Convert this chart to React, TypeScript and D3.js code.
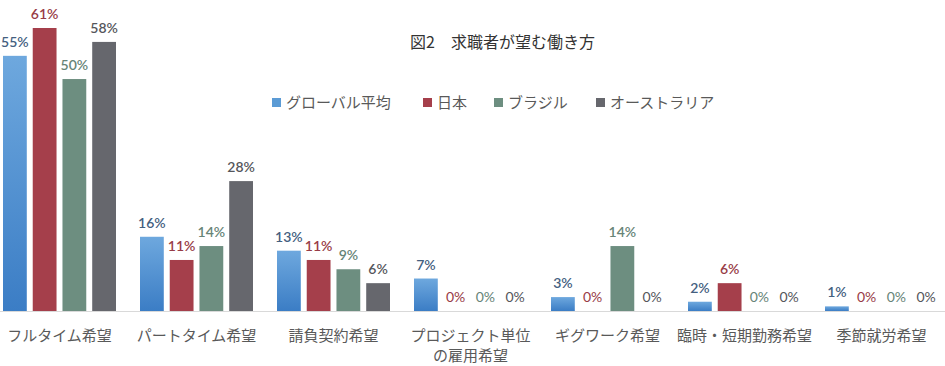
import { useEffect, useRef } from "react";
import * as d3 from "d3";

const categories = [
  ["フルタイム希望"],
  ["パートタイム希望"],
  ["請負契約希望"],
  ["プロジェクト単位", "の雇用希望"],
  ["ギグワーク希望"],
  ["臨時・短期勤務希望"],
  ["季節就労希望"],
];
const seriesNames = ["グローバル平均", "日本", "ブラジル", "オーストラリア"];
const globalAvg = [55, 16, 13, 7, 3, 2, 1];
const japan = [61, 11, 11, 0, 0, 6, 0];
const brazil = [50, 14, 9, 0, 14, 0, 0];
const australia = [58, 28, 6, 0, 0, 0, 0];

const barColors = ["url(#blueGrad)", "#a53f4b", "#6d8e80", "#66676d"];
const legendColors = ["#5b9bd5", "#a53f4b", "#6d8e80", "#66676d"];
const labelColors = ["#44607f", "#983c46", "#678477", "#55565b"];

const W = 945;
const H = 366;
const baseY = 311;
const jp = "'Noto Sans CJK JP', sans-serif";

export default function App() {
  const svgRef = useRef<SVGSVGElement>(null);

  useEffect(() => {
    const svg = d3.select(svgRef.current);
    svg.selectAll("*").remove();
    const allSeries = [globalAvg, japan, brazil, australia];

    const defs = svg.append("defs");
    const grad = defs
      .append("linearGradient")
      .attr("id", "blueGrad")
      .attr("x1", 0)
      .attr("y1", 0)
      .attr("x2", 0)
      .attr("y2", 1);
    grad.append("stop").attr("offset", "0%").attr("stop-color", "#6ea8de");
    grad.append("stop").attr("offset", "100%").attr("stop-color", "#3b7dc5");

    const x0 = d3
      .scaleBand<number>()
      .domain(d3.range(categories.length))
      .range([-9, 950])
      .paddingInner(0)
      .paddingOuter(0);
    const x1 = d3
      .scaleBand<number>()
      .domain(d3.range(seriesNames.length))
      .range([12, x0.bandwidth() - 12])
      .paddingInner(0.2);
    const y = d3.scaleLinear().domain([0, 61]).range([baseY, 28]);

    // baseline
    svg
      .append("line")
      .attr("x1", 0)
      .attr("x2", W)
      .attr("y1", baseY + 0.5)
      .attr("y2", baseY + 0.5)
      .attr("stroke", "#d9d9d9");

    const groups = svg
      .selectAll(".grp")
      .data(categories)
      .enter()
      .append("g")
      .attr("transform", (_, i) => `translate(${x0(i)},0)`);

    groups.each(function (_, ci) {
      const g = d3.select(this);
      allSeries.forEach((vals, si) => {
        const v = vals[ci];
        if (v > 0) {
          g.append("rect")
            .attr("x", x1(si)!)
            .attr("y", y(v))
            .attr("width", x1.bandwidth())
            .attr("height", baseY - y(v))
            .attr("fill", barColors[si]);
        }
        g.append("text")
          .attr("x", x1(si)! + x1.bandwidth() / 2)
          .attr("y", y(v) - 9)
          .attr("text-anchor", "middle")
          .attr("font-family", "Lato, sans-serif")
          .attr("font-size", 14)
          .attr("font-weight", v > 0 ? 600 : 400)
          .attr("fill", labelColors[si])
          .text(`${v}%`);
      });
      const lines = categories[ci];
      lines.forEach((ln, li) => {
        g.append("text")
          .attr("x", x0.bandwidth() / 2)
          .attr("y", 341 + li * 20)
          .attr("text-anchor", "middle")
          .attr("font-family", jp)
          .attr("font-size", 15)
          .attr("fill", "#595959")
          .text(ln);
      });
    });

    // title
    svg
      .append("text")
      .attr("x", 410)
      .attr("y", 48)
      .attr("font-family", jp)
      .attr("font-size", 16)
      .attr("fill", "#333")
      .text("図2　求職者が望む働き方");

    // legend
    const legendX = [272, 423, 494, 596];
    seriesNames.forEach((name, i) => {
      svg
        .append("rect")
        .attr("x", legendX[i])
        .attr("y", 98)
        .attr("width", 9)
        .attr("height", 9)
        .attr("fill", legendColors[i]);
      svg
        .append("text")
        .attr("x", legendX[i] + 14)
        .attr("y", 108)
        .attr("font-family", jp)
        .attr("font-size", 15)
        .attr("fill", "#595959")
        .text(name);
    });
  }, []);

  return (
    <svg
      ref={svgRef}
      width={W}
      height={H}
      style={{ position: "absolute", left: 0, top: 0, background: "#fff" }}
    ></svg>
  );
}
